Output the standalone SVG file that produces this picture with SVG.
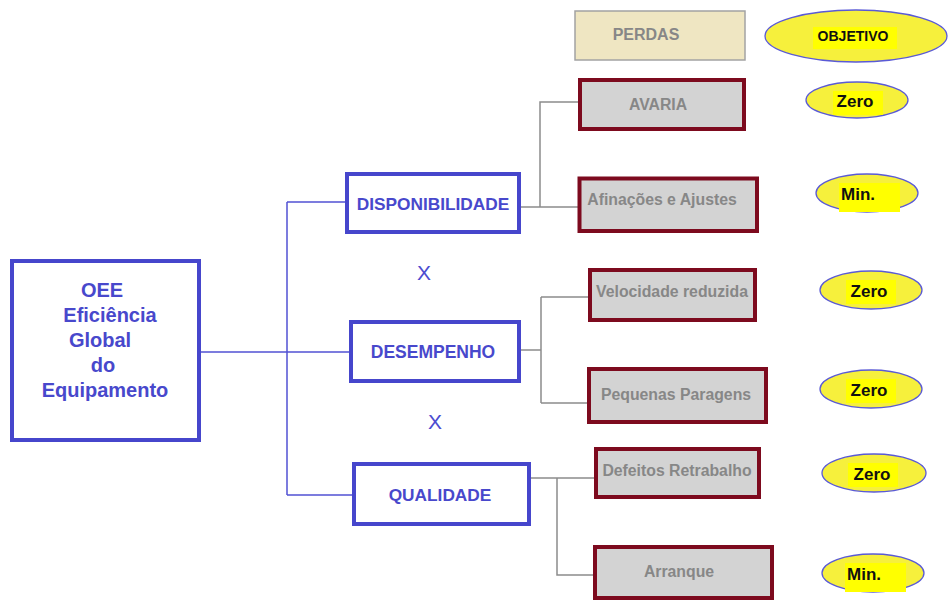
<svg xmlns="http://www.w3.org/2000/svg" width="949" height="601" viewBox="0 0 949 601">
<style>
.bg{fill:#ffffff}
.blue-box{fill:#ffffff;stroke:#4646cc;stroke-width:4}
.blue-txt{font-family:"Liberation Sans",Arial,sans-serif;font-weight:bold;fill:#4848cc;text-anchor:middle}
.red-box{fill:#d3d3d3;stroke:#7d0a1e;stroke-width:4}
.red-txt{font-family:"Liberation Sans",Arial,sans-serif;font-weight:bold;font-size:15.8px;fill:#878787;text-anchor:middle}
.goal{fill:#f6f03c;stroke:#5a5ad6;stroke-width:1.3}
.hl{fill:#ffff00}
.goal-txt{font-family:"Liberation Sans",Arial,sans-serif;font-weight:bold;fill:#111111;text-anchor:middle}
.blue-line{fill:none;stroke:#5252d4;stroke-width:1.5}
.gray-line{fill:none;stroke:#8c8c8c;stroke-width:1.5}
.x-txt{font-family:"Liberation Sans",Arial,sans-serif;font-size:21px;fill:#4c4cd0;text-anchor:middle}
</style>
<rect class="bg" x="0" y="0" width="949" height="601"/>

<g id="connectors">
  <path class="blue-line" d="M201,352 H287 M287,202 V495 M287,202 H345 M287,352 H349 M287,495 H352"/>
  <path class="gray-line" d="M521,207 H578 M540,207 V102 H578"/>
  <path class="gray-line" d="M521,350 H541 M541,297 V403 M541,297 H588 M541,403 H587"/>
  <path class="gray-line" d="M531,478 H594 M557,478 V575 H593"/>
</g>

<g id="oee">
  <rect class="blue-box" x="12" y="261" width="187" height="179"/>
  <text class="blue-txt" font-size="20" x="102" y="297">OEE</text>
  <text class="blue-txt" font-size="20" x="110" y="322">Eficiência</text>
  <text class="blue-txt" font-size="20" x="100" y="347">Global</text>
  <text class="blue-txt" font-size="20" x="103" y="372">do</text>
  <text class="blue-txt" font-size="20" x="105" y="397">Equipamento</text>
</g>

<g id="disponibilidade">
  <rect class="blue-box" x="347" y="174" width="172" height="58"/>
  <text class="blue-txt" font-size="17.3" x="433" y="210">DISPONIBILIDADE</text>
</g>
<g id="x1"><text class="x-txt" x="424" y="280">X</text></g>
<g id="desempenho">
  <rect class="blue-box" x="351" y="322" width="168" height="59"/>
  <text class="blue-txt" font-size="17.5" x="433" y="358">DESEMPENHO</text>
</g>
<g id="x2"><text class="x-txt" x="435" y="429">X</text></g>
<g id="qualidade">
  <rect class="blue-box" x="354" y="464" width="175" height="60"/>
  <text class="blue-txt" font-size="17.3" x="440" y="501">QUALIDADE</text>
</g>

<g id="perdas">
  <rect x="575" y="11" width="170" height="49" fill="#efe6c2" stroke="#a3a3a3" stroke-width="1.5"/>
  <text class="red-txt" style="font-size:16px" x="646" y="40">PERDAS</text>
</g>
<g id="objetivo">
  <ellipse class="goal" cx="856" cy="36" rx="91" ry="26"/>
  <rect class="hl" x="813" y="27" width="84" height="22"/>
  <text class="goal-txt" font-size="14" x="853" y="41">OBJETIVO</text>
</g>

<g id="avaria">
  <rect class="red-box" x="580" y="80" width="164" height="49"/>
  <text class="red-txt" x="658" y="110">AVARIA</text>
</g>
<g id="afinacoes">
  <rect class="red-box" x="579.5" y="178.5" width="177.5" height="52.5"/>
  <text class="red-txt" x="662" y="205">Afinações e Ajustes</text>
</g>
<g id="velocidade">
  <rect class="red-box" x="590" y="270" width="165" height="50"/>
  <text class="red-txt" x="672" y="297">Velocidade reduzida</text>
</g>
<g id="pequenas">
  <rect class="red-box" x="589" y="369" width="177" height="53"/>
  <text class="red-txt" x="676" y="400">Pequenas Paragens</text>
</g>
<g id="defeitos">
  <rect class="red-box" x="596" y="449" width="163" height="48"/>
  <text class="red-txt" x="677" y="476">Defeitos Retrabalho</text>
</g>
<g id="arranque">
  <rect class="red-box" x="595" y="547" width="177" height="51"/>
  <text class="red-txt" x="679" y="577">Arranque</text>
</g>

<g id="goal-avaria">
  <ellipse class="goal" cx="857" cy="100" rx="51" ry="18"/>
  <rect class="hl" x="833" y="91" width="50" height="24"/>
  <text class="goal-txt" font-size="17" x="855" y="107">Zero</text>
</g>
<g id="goal-afinacoes">
  <ellipse class="goal" cx="867" cy="193" rx="51" ry="19"/>
  <rect class="hl" x="839" y="183" width="61" height="29"/>
  <text class="goal-txt" font-size="17" x="858" y="200">Min.</text>
</g>
<g id="goal-velocidade">
  <ellipse class="goal" cx="871" cy="290" rx="51" ry="19"/>
  <rect class="hl" x="846" y="280" width="50" height="24"/>
  <text class="goal-txt" font-size="17" x="869" y="297">Zero</text>
</g>
<g id="goal-pequenas">
  <ellipse class="goal" cx="871" cy="389" rx="51" ry="19"/>
  <rect class="hl" x="846" y="379" width="50" height="24"/>
  <text class="goal-txt" font-size="17" x="869" y="396">Zero</text>
</g>
<g id="goal-defeitos">
  <ellipse class="goal" cx="874" cy="473" rx="52" ry="19"/>
  <rect class="hl" x="848" y="463" width="50" height="24"/>
  <text class="goal-txt" font-size="17" x="872" y="480">Zero</text>
</g>
<g id="goal-arranque">
  <ellipse class="goal" cx="873" cy="573" rx="51" ry="19"/>
  <rect class="hl" x="845" y="563" width="61" height="29"/>
  <text class="goal-txt" font-size="17" x="864" y="580">Min.</text>
</g>
</svg>
